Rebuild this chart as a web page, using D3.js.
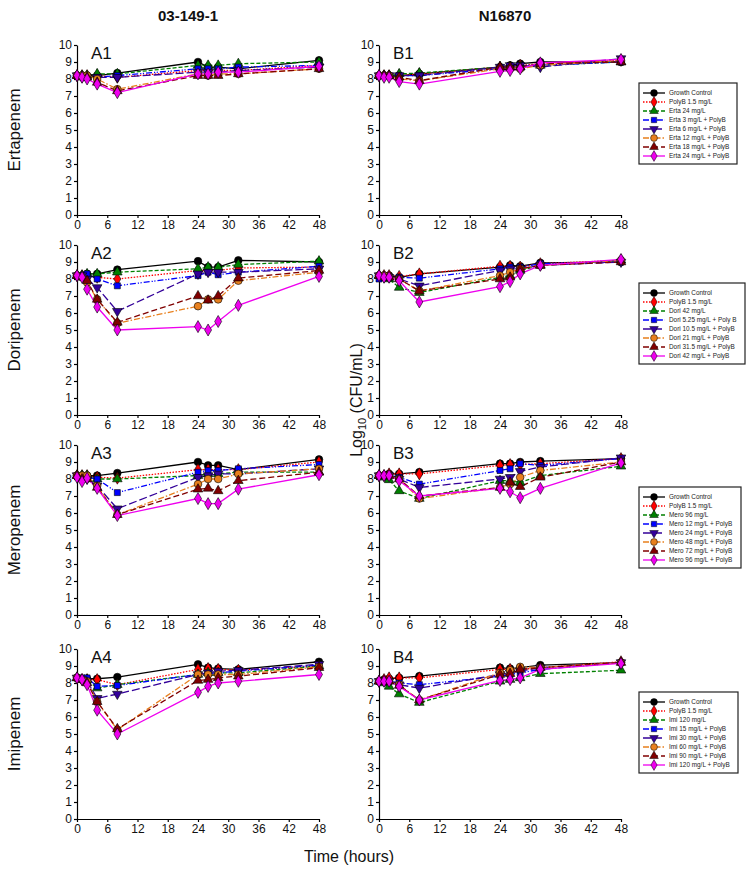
<!DOCTYPE html>
<meta charset="utf-8">
<style>
  body { margin: 0; background: #fff; }
  svg { font-family: Arial, "Liberation Sans", sans-serif; }
</style>
<div id="chart"></div>
<script src="https://cdn.jsdelivr.net/npm/d3@7"></script>
<script>

// sampling times (hours)
var times = [0, 1, 2, 4, 8, 24, 26, 28, 32, 48];

var strains = ["03-149-1", "N16870"];
var drugs = ["Ertapenem", "Doripenem", "Meropenem", "Imipenem"];
var xTicks = [0, 6, 12, 18, 24, 30, 36, 42, 48];
var yTicks = [0, 1, 2, 3, 4, 5, 6, 7, 8, 9, 10];

var ertaLabels = ["Growth Control", "PolyB 1.5 mg/L", "Erta 24 mg/L", "Erta 3 mg/L + PolyB",
  "Erta 6 mg/L + PolyB", "Erta 12 mg/L + PolyB", "Erta 18 mg/L + PolyB", "Erta 24 mg/L + PolyB"];
var doriLabels = ["Growth Control", "PolyB 1.5 mg/L", "Dori 42 mg/L", "Dori 5.25 mg/L + Poly B",
  "Dori 10.5 mg/L + PolyB", "Dori 21 mg/L + PolyB", "Dori 31.5 mg/L + PolyB", "Dori 42 mg/L + PolyB"];
var meroLabels = ["Growth Control", "PolyB 1.5 mg/L", "Mero 96 mg/L", "Mero 12 mg/L + PolyB",
  "Mero 24 mg/L + PolyB", "Mero 48 mg/L + PolyB", "Mero 72 mg/L + PolyB", "Mero 96 mg/L + PolyB"];
var imiLabels = ["Growth Control", "PolyB 1.5 mg/L", "Imi 120 mg/L", "Imi 15 mg/L + PolyB",
  "Imi 30 mg/L + PolyB", "Imi 60 mg/L + PolyB", "Imi 90 mg/L + PolyB", "Imi 120 mg/L + PolyB"];

// log10 CFU/mL, one row per series (legend order), one value per time point
var a1 = [
  [8.2, 8.2, 8.2, 8.2, 8.35, 9.0, 8.7, 8.7, 8.6, 9.1],
  [8.2, 8.2, 8.2, 8.2, 8.1, 8.5, 8.5, 8.5, 8.5, 8.8],
  [8.2, 8.2, 8.2, 8.3, 8.3, 8.8, 8.8, 8.8, 8.9, 9.0],
  [8.2, 8.2, 8.1, 8.1, 8.2, 8.6, 8.6, 8.6, 8.7, 8.8],
  [8.2, 8.1, 8.1, 8.1, 8.1, 8.4, 8.4, 8.4, 8.5, 8.7],
  [8.2, 8.2, 8.2, 8.0, 7.4, 8.3, 8.2, 8.3, 8.3, 8.6],
  [8.2, 8.1, 8.1, 7.8, 7.3, 8.2, 8.2, 8.2, 8.3, 8.6],
  [8.2, 8.1, 8.0, 7.7, 7.2, 8.3, 8.3, 8.4, 8.4, 8.75]
];
var b1 = [
  [8.2, 8.2, 8.2, 8.2, 8.3, 8.7, 8.8, 8.9, 9.0, 9.0],
  [8.2, 8.2, 8.2, 8.2, 8.3, 8.7, 8.7, 8.8, 8.9, 9.1],
  [8.2, 8.2, 8.2, 8.3, 8.35, 8.7, 8.7, 8.7, 8.8, 9.0],
  [8.2, 8.2, 8.2, 8.2, 8.2, 8.6, 8.7, 8.8, 8.8, 9.0],
  [8.2, 8.2, 8.2, 8.2, 8.2, 8.7, 8.8, 8.8, 8.7, 9.2],
  [8.2, 8.2, 8.2, 8.0, 7.9, 8.6, 8.6, 8.6, 8.8, 9.1],
  [8.2, 8.2, 8.2, 8.1, 7.9, 8.7, 8.7, 8.7, 8.9, 9.0],
  [8.2, 8.1, 8.1, 7.85, 7.7, 8.45, 8.5, 8.6, 8.95, 9.15]
];
var a2 = [
  [8.2, 8.2, 8.3, 8.3, 8.55, 9.05, 8.7, 8.7, 9.1, 9.0],
  [8.2, 8.2, 8.2, 8.1, 8.0, 8.5, 8.5, 8.5, 8.65, 8.7],
  [8.2, 8.2, 8.3, 8.3, 8.4, 8.6, 8.7, 8.7, 8.85, 9.05],
  [8.2, 8.2, 8.3, 8.0, 7.6, 8.2, 8.4, 8.25, 8.4, 8.75],
  [8.2, 8.2, 8.0, 7.5, 6.1, 8.3, 8.4, 8.4, 8.4, 8.6],
  [8.2, 8.1, 7.8, 6.8, 5.4, 6.4, 6.8, 6.8, 7.9, 8.4],
  [8.2, 8.1, 7.9, 6.8, 5.45, 7.0, 6.75, 7.0, 8.05, 8.5],
  [8.2, 8.1, 7.4, 6.35, 5.0, 5.2, 5.0, 5.5, 6.45, 8.15]
];
var b2 = [
  [8.2, 8.2, 8.2, 8.1, 8.3, 8.7, 8.8, 8.75, 8.95, 9.0],
  [8.2, 8.2, 8.2, 8.15, 8.3, 8.75, 8.75, 8.7, 8.9, 9.1],
  [8.2, 8.1, 8.0, 7.5, 7.2, 8.1, 8.2, 8.5, 8.8, 9.1],
  [8.0, 8.1, 8.1, 8.1, 8.05, 8.6, 8.7, 8.7, 8.9, 9.0],
  [8.2, 8.1, 8.1, 8.0, 7.6, 8.5, 8.6, 8.6, 8.8, 9.0],
  [8.2, 8.2, 8.1, 8.0, 7.3, 8.2, 8.4, 8.6, 8.8, 9.1],
  [8.2, 8.1, 8.1, 8.0, 7.3, 8.0, 8.1, 8.6, 8.8, 9.0],
  [8.2, 8.1, 8.1, 7.9, 6.65, 7.55, 7.85, 8.3, 8.8, 9.15]
];
var a3 = [
  [8.2, 8.2, 8.2, 8.2, 8.35, 9.0, 8.8, 8.8, 8.55, 9.15],
  [8.2, 8.2, 8.2, 8.1, 8.05, 8.55, 8.55, 8.55, 8.55, 9.0],
  [8.2, 8.2, 8.2, 8.0, 8.0, 8.2, 8.3, 8.3, 8.4, 8.4],
  [8.2, 8.2, 8.1, 8.0, 7.2, 8.4, 8.5, 8.5, 8.6, 8.85],
  [8.2, 8.1, 8.0, 7.6, 6.25, 8.1, 8.2, 8.3, 8.3, 8.6],
  [8.2, 8.2, 8.2, 7.6, 5.9, 7.7, 8.0, 8.0, 8.3, 8.6],
  [8.2, 8.0, 8.0, 7.5, 5.9, 7.4, 7.45, 7.3, 7.9, 8.4],
  [8.1, 7.85, 8.05, 7.45, 5.85, 6.85, 6.55, 6.55, 7.4, 8.25]
];
var b3 = [
  [8.2, 8.2, 8.3, 8.3, 8.4, 8.9, 8.9, 9.0, 9.05, 9.2],
  [8.2, 8.2, 8.3, 8.3, 8.3, 8.8, 8.85, 8.85, 8.9, 9.2],
  [8.2, 8.1, 7.95, 7.3, 6.85, 7.9, 7.9, 7.8, 8.2, 8.75],
  [8.2, 8.2, 8.2, 8.1, 7.7, 8.5, 8.6, 8.9, 8.8, 9.2],
  [8.2, 8.2, 8.2, 8.0, 7.5, 8.0, 8.1, 8.45, 8.7, 9.25],
  [8.2, 8.2, 8.2, 8.0, 6.85, 7.5, 7.7, 8.1, 8.5, 9.0],
  [8.2, 8.2, 8.2, 8.0, 7.0, 7.5, 7.8, 7.55, 8.1, 9.0],
  [8.2, 8.2, 8.2, 7.9, 7.0, 7.45, 7.25, 6.9, 7.45, 8.95]
];
var a4 = [
  [8.3, 8.2, 8.25, 8.25, 8.35, 9.1, 8.9, 8.85, 8.8, 9.25],
  [8.3, 8.2, 8.2, 8.2, 7.9, 8.8, 8.85, 8.8, 8.75, 9.0],
  [8.3, 8.2, 8.2, 7.7, 7.9, 8.5, 8.6, 8.6, 8.6, 9.0],
  [8.3, 8.3, 8.3, 7.8, 7.85, 8.5, 8.55, 8.6, 8.7, 9.05],
  [8.3, 8.2, 8.1, 7.1, 7.35, 8.5, 8.6, 8.7, 8.75, 9.1],
  [8.3, 8.2, 8.1, 6.9, 5.25, 8.5, 8.5, 8.5, 8.5, 8.95],
  [8.3, 8.2, 8.0, 6.9, 5.3, 8.15, 8.2, 8.3, 8.4, 8.9],
  [8.3, 8.2, 7.9, 6.4, 5.0, 7.45, 7.8, 8.0, 8.1, 8.5]
];
var b4 = [
  [8.1, 8.2, 8.25, 8.3, 8.4, 8.9, 8.85, 8.9, 9.05, 9.2],
  [8.1, 8.2, 8.3, 8.3, 8.3, 8.8, 8.8, 8.8, 8.9, 9.25],
  [8.1, 8.0, 7.8, 7.35, 6.85, 8.1, 8.2, 8.3, 8.55, 8.75],
  [8.1, 8.1, 8.1, 8.0, 7.9, 8.4, 8.5, 8.6, 8.8, 9.2],
  [8.1, 8.1, 8.1, 7.9, 7.7, 8.5, 8.6, 8.7, 8.9, 9.2],
  [8.1, 8.1, 8.1, 7.9, 7.0, 8.6, 8.75, 8.95, 8.9, 9.2],
  [8.1, 8.1, 8.1, 7.85, 7.0, 8.5, 8.55, 8.8, 8.9, 9.2],
  [8.1, 8.1, 8.1, 7.8, 7.0, 8.15, 8.2, 8.3, 8.8, 9.15]
];

var rows = [
  { drug: drugs[0], labels: ertaLabels, panels: [a1, b1], legendTop: 83, legendW: 98 },
  { drug: drugs[1], labels: doriLabels, panels: [a2, b2], legendTop: 283, legendW: 106 },
  { drug: drugs[2], labels: meroLabels, panels: [a3, b3], legendTop: 487, legendW: 102 },
  { drug: drugs[3], labels: imiLabels, panels: [a4, b4], legendTop: 692, legendW: 99 }
];

// line / marker styling, legend order
var colors = ["#000000", "#ff0000", "#008000", "#0000ff", "#330099", "#e8801e", "#800000", "#ee00ee"];
var dashes = [null, "1.5,1.5", "4,2", "6,2,1.2,1.5,1.2,2", "8,3", "6,2,1.5,2", "6,3", null];
var symbols = [d3.symbolCircle, d3.symbolDiamond, d3.symbolTriangle, d3.symbolSquare,
  d3.symbolTriangle, d3.symbolCircle, d3.symbolTriangle, d3.symbolDiamond];
var flips = [0, 0, 0, 0, 180, 0, 0, 0];
var symSizes = [46, 42, 40, 36, 40, 46, 40, 42];

var width = 754, height = 874;
var svg = d3.select("#chart").append("svg")
    .attr("width", width)
    .attr("height", height);

var colLeft = [77, 379], plotW = 242, plotH = 170;
var rowTop = [45, 245, 445, 649];

var x = d3.scaleLinear().domain([0, 48]).range([0, plotW]);
var y = d3.scaleLinear().domain([0, 10]).range([plotH, 0]);

rows.forEach(function(row, ri) {
  row.panels.forEach(function(series, ci) {
    var g = svg.append("g")
        .attr("transform", "translate(" + colLeft[ci] + "," + rowTop[ri] + ")");

    var xAxis = g.append("g")
        .attr("transform", "translate(0," + plotH + ")")
        .call(d3.axisBottom(x).tickValues(xTicks).tickSize(3).tickSizeOuter(0));
    var yAxis = g.append("g")
        .call(d3.axisLeft(y).tickValues(yTicks).tickSize(3).tickSizeOuter(0));
    [xAxis, yAxis].forEach(function(ax) {
      ax.selectAll("path, line").attr("stroke", "#000").attr("stroke-width", 1.2);
      ax.selectAll("text").attr("font-size", 12).attr("fill", "#111")
        .attr("font-family", "Arial, 'Liberation Sans', sans-serif");
    });
    xAxis.selectAll("text").attr("dy", "0.75em").attr("y", 5);
    yAxis.selectAll("text").attr("x", -5);

    g.append("text")
        .attr("x", 14)
        .attr("y", 14)
        .attr("font-size", 17)
        .attr("fill", "#111")
        .text((ci === 0 ? "A" : "B") + (ri + 1));

    var line = d3.line()
        .x(function(d, i) { return x(times[i]); })
        .y(function(d) { return y(d); });

    series.forEach(function(vals, si) {
      g.append("path")
          .datum(vals)
          .attr("fill", "none")
          .attr("stroke", colors[si])
          .attr("stroke-width", 1.3)
          .attr("stroke-dasharray", dashes[si])
          .attr("d", line);
    });
    series.forEach(function(vals, si) {
      g.append("g").selectAll("path")
        .data(vals)
        .enter().append("path")
          .attr("d", d3.symbol().type(symbols[si]).size(symSizes[si]))
          .attr("transform", function(d, i) {
            return "translate(" + x(times[i]) + "," + y(d) + ") rotate(" + flips[si] + ")";
          })
          .attr("fill", colors[si])
          .attr("stroke", "#000")
          .attr("stroke-width", 0.6);
    });
  });

  // row label
  svg.append("text")
      .attr("transform", "translate(20," + (rowTop[ri] + plotH / 2) + ") rotate(-90)")
      .attr("text-anchor", "middle")
      .attr("font-size", 17)
      .attr("fill", "#111")
      .text(row.drug);

  // legend
  var lg = svg.append("g")
      .attr("transform", "translate(639," + row.legendTop + ")");
  lg.append("rect")
      .attr("width", row.legendW)
      .attr("height", 81)
      .attr("fill", "#fff")
      .attr("stroke", "#222")
      .attr("stroke-width", 1.2);
  var item = lg.selectAll("g.item")
    .data(row.labels)
    .enter().append("g")
      .attr("class", "item")
      .attr("transform", function(d, i) { return "translate(0," + (10 + i * 9) + ")"; });
  item.append("line")
      .attr("x1", 4).attr("x2", 26)
      .attr("stroke", function(d, i) { return colors[i]; })
      .attr("stroke-width", 1.3)
      .attr("stroke-dasharray", function(d, i) { return dashes[i]; });
  item.append("path")
      .attr("d", function(d, i) { return d3.symbol().type(symbols[i]).size(symSizes[i] * 0.8)(); })
      .attr("transform", function(d, i) { return "translate(15,0) rotate(" + flips[i] + ")"; })
      .attr("fill", function(d, i) { return colors[i]; })
      .attr("stroke", "#000")
      .attr("stroke-width", 0.5);
  item.append("text")
      .attr("x", 30)
      .attr("dy", "0.35em")
      .attr("font-size", 6.4)
      .attr("fill", "#222")
      .text(function(d) { return d; });
});

// column titles
strains.forEach(function(s, ci) {
  svg.append("text")
      .attr("x", colLeft[ci] + (ci === 0 ? 111 : 126))
      .attr("y", 21)
      .attr("text-anchor", "middle")
      .attr("font-size", 15)
      .attr("font-weight", "bold")
      .attr("fill", "#111")
      .text(s);
});

// shared axis titles
var yt = svg.append("text")
    .attr("transform", "translate(362,400) rotate(-90)")
    .attr("text-anchor", "middle")
    .attr("font-size", 16)
    .attr("fill", "#111");
yt.append("tspan").text("Log");
yt.append("tspan").attr("font-size", 11).attr("dy", 4).text("10");
yt.append("tspan").attr("dy", -4).text(" (CFU/mL)");

svg.append("text")
    .attr("x", 349)
    .attr("y", 862)
    .attr("text-anchor", "middle")
    .attr("font-size", 16)
    .attr("fill", "#111")
    .text("Time (hours)");

</script>
